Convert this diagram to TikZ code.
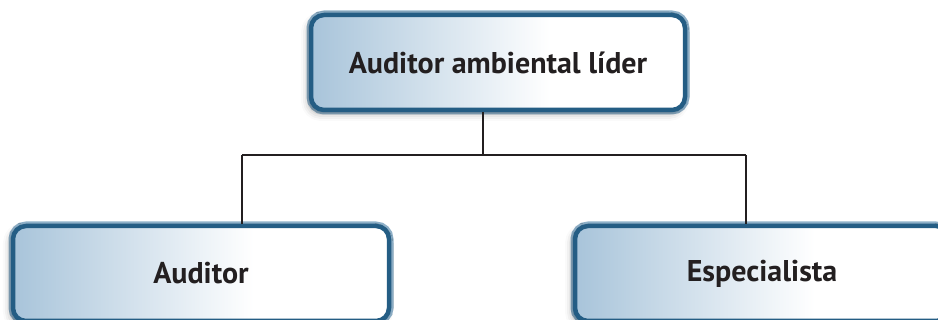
\documentclass[tikz,border=0pt]{standalone}
\usepackage{fontspec}
\setmainfont{PT Sans}
\usetikzlibrary{shadows.blur}
\definecolor{rim}{HTML}{245D84}
\definecolor{glow}{HTML}{8EB0C8}
\definecolor{sky}{HTML}{A8C4DA}
\definecolor{ink}{HTML}{231F20}
\pgfdeclarehorizontalshading{skyfade}{100bp}{color(0bp)=(sky); color(25bp)=(sky); color(57bp)=(white); color(100bp)=(white)}

\begin{document}
\begin{tikzpicture}[x=1pt, y=-1pt,
  box/.style={draw=rim, line width=4.5pt, rounded corners=13pt, shading=skyfade,
    minimum height=95pt, align=center, font=\bfseries\fontsize{30}{34}\selectfont, text=ink,
    preaction={draw=glow, line width=9pt, rounded corners=13pt},
    blur shadow={shadow xshift=-3pt, shadow yshift=-4pt, shadow blur radius=7pt, shadow opacity=30}},
  conn/.style={draw=ink, line width=2.6pt}]
\useasboundingbox (0,0) rectangle (938,320);
\node[box, minimum width=374pt] (lead) at (498,62.5) {Auditor ambiental líder};
\node[box, minimum width=376pt] (aud) at (201,273.5) {Auditor};
\node[box, minimum width=374pt] (esp) at (762,273.5) {Especialista};
\coordinate (hub) at (483,155);
\coordinate (audtap) at (242,155);
\coordinate (esptap) at (746,155);
\draw[conn] (lead.south -| hub) -- (hub);
\draw[conn] (audtap) -- (esptap);
\draw[conn] (audtap) -- (audtap |- aud.north);
\draw[conn] (esptap) -- (esptap |- esp.north);
\end{tikzpicture}
\end{document}
